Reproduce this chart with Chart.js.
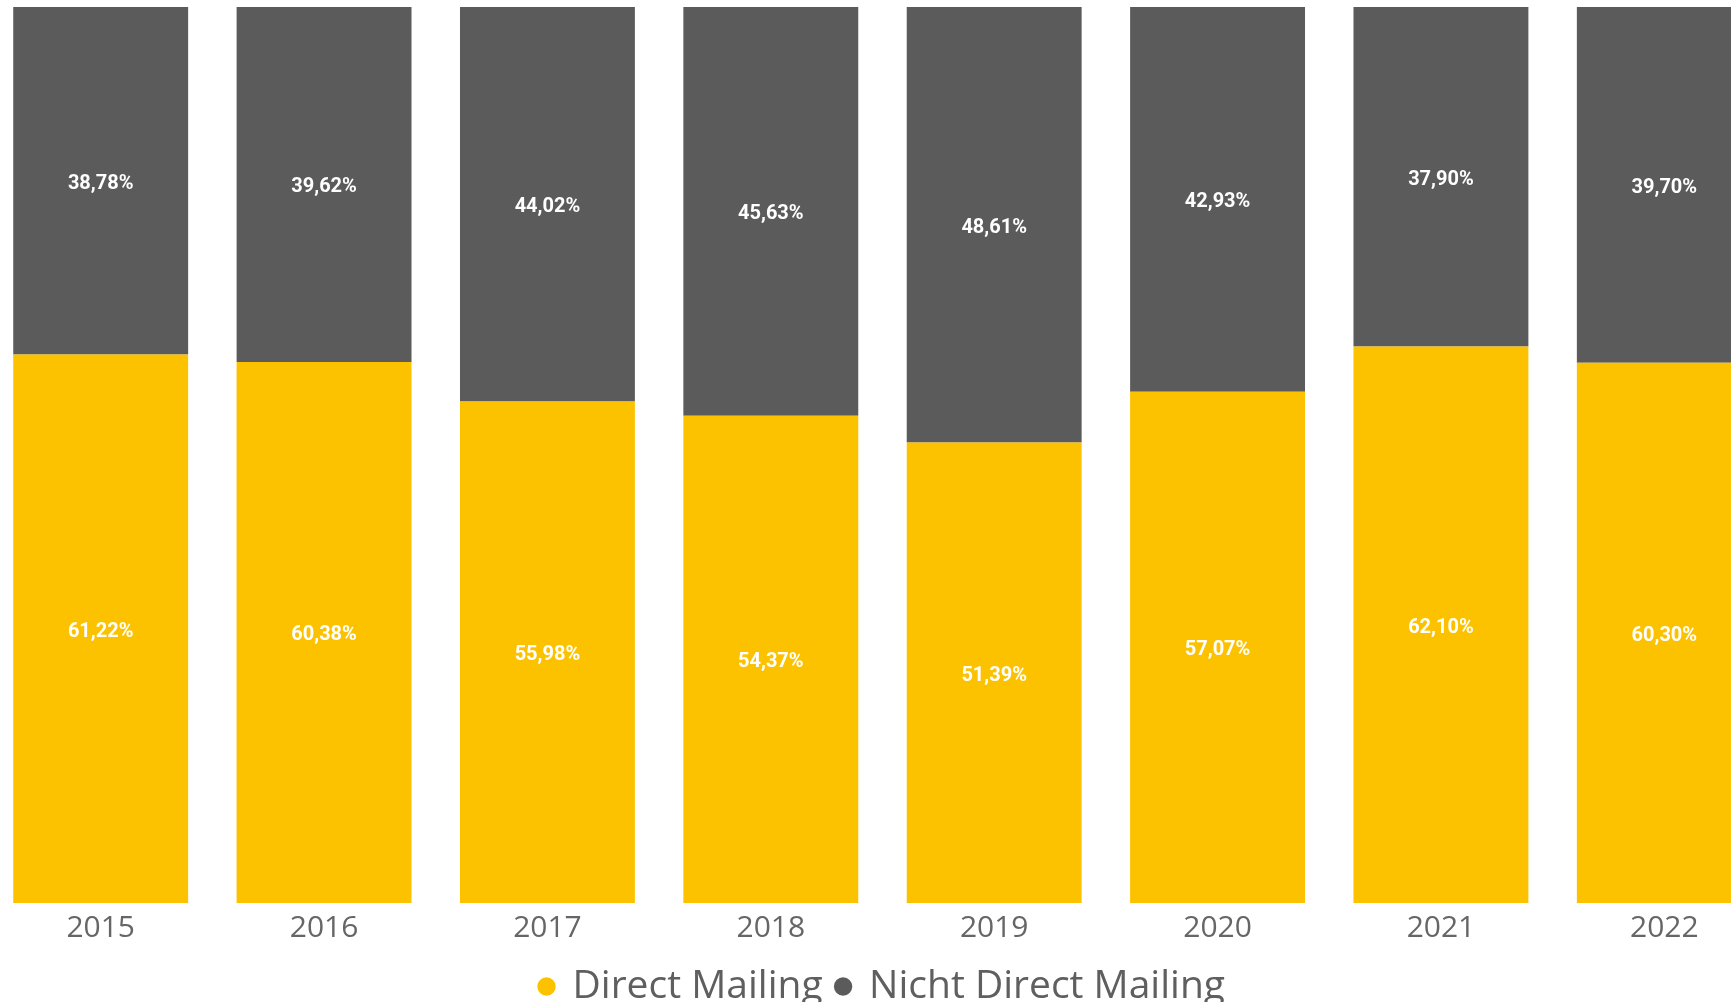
<!DOCTYPE html>
<html>
<head>
<meta charset="utf-8">
<script src="https://cdn.jsdelivr.net/npm/chart.js@4.4.1/dist/chart.umd.min.js"></script>
<style>
  html, body { margin: 0; padding: 0; background: #fff; overflow: hidden; width: 1731px; height: 1002px; }
  #wrap { position: absolute; left: -11px; top: 0; width: 1787px; height: 1016px; }
</style>
</head>
<body>
<div id="wrap"><canvas id="c"></canvas></div>
<script>
const years = ['2015', '2016', '2017', '2018', '2019', '2020', '2021', '2022'];
const directMailing = [61.22, 60.38, 55.98, 54.37, 51.39, 57.07, 62.10, 60.30];
const nichtDirectMailing = [38.78, 39.62, 44.02, 45.63, 48.61, 42.93, 37.90, 39.70];

const valueLabels = {
  id: 'valueLabels',
  afterDatasetsDraw(chart) {
    const ctx = chart.ctx;
    ctx.save();
    ctx.font = 'bold 20px Roboto';
    ctx.fillStyle = '#ffffff';
    ctx.textAlign = 'center';
    ctx.textBaseline = 'middle';
    chart.data.datasets.forEach((ds, di) => {
      const meta = chart.getDatasetMeta(di);
      meta.data.forEach((bar, i) => {
        const p = bar.getProps(['x', 'y', 'base'], true);
        const y = (p.y + p.base) / 2 + 3;
        ctx.fillText(ds.data[i].toFixed(2).replace('.', ',') + '%', p.x, y);
      });
    });
    ctx.restore();
  }
};

new Chart(document.getElementById('c'), {
  type: 'bar',
  data: {
    labels: years,
    datasets: [
      { label: 'Direct Mailing', data: directMailing, backgroundColor: '#FCC200' },
      { label: 'Nicht Direct Mailing', data: nichtDirectMailing, backgroundColor: '#5B5B5B' }
    ]
  },
  options: {
    responsive: true,
    maintainAspectRatio: false,
    animation: false,
    layout: { padding: { top: 7, bottom: 0, left: 0, right: 0 } },
    datasets: { bar: { categoryPercentage: 1.0, barPercentage: 0.783 } },
    scales: {
      x: {
        stacked: true,
        grid: { display: false, drawTicks: false },
        border: { display: false },
        ticks: { color: '#666666', font: { family: 'Open Sans', size: 30 }, padding: 7 }
      },
      y: {
        stacked: true,
        display: false,
        min: 0,
        max: 100
      }
    },
    plugins: {
      legend: {
        position: 'bottom',
        labels: {
          usePointStyle: true,
          pointStyle: 'circle',
          boxWidth: 13,
          boxHeight: 13,
          color: '#5f5f5f',
          font: { family: 'Open Sans', size: 39 },
          padding: 14
        }
      },
      tooltip: { enabled: false }
    }
  },
  plugins: [valueLabels]
});
</script>
</body>
</html>
